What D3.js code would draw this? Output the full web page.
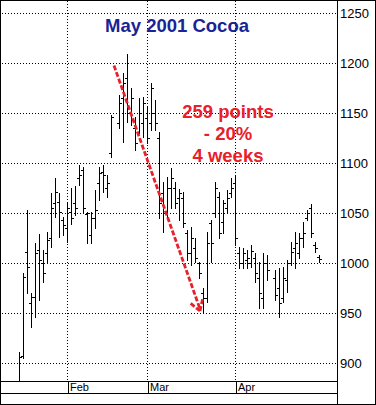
<!DOCTYPE html>
<html>
<head>
<meta charset="utf-8">
<script src="https://cdn.jsdelivr.net/npm/d3@7"></script>
<style>
  body { margin: 0; background: #fff; }
  svg { display: block; }
</style>
</head>
<body>
<div id="chart"></div>
<script>
// trading days shown (holidays Feb 19 and Apr 13 are left blank)
const dates = [
  "2001-01-16","2001-01-17","2001-01-18","2001-01-19","2001-01-22","2001-01-23","2001-01-24","2001-01-25","2001-01-26","2001-01-29","2001-01-30","2001-01-31",
  "2001-02-01","2001-02-02","2001-02-05","2001-02-06","2001-02-07","2001-02-08","2001-02-09","2001-02-12","2001-02-13","2001-02-14","2001-02-15","2001-02-16",
  "2001-02-20","2001-02-21","2001-02-22","2001-02-23","2001-02-26","2001-02-27","2001-02-28",
  "2001-03-01","2001-03-02","2001-03-05","2001-03-06","2001-03-07","2001-03-08","2001-03-09","2001-03-12","2001-03-13","2001-03-14","2001-03-15","2001-03-16",
  "2001-03-19","2001-03-20","2001-03-21","2001-03-22","2001-03-23","2001-03-26","2001-03-27","2001-03-28","2001-03-29","2001-03-30",
  "2001-04-02","2001-04-03","2001-04-04","2001-04-05","2001-04-06","2001-04-09","2001-04-10","2001-04-11","2001-04-12",
  "2001-04-16","2001-04-17","2001-04-18","2001-04-19","2001-04-20","2001-04-23","2001-04-24","2001-04-25","2001-04-26","2001-04-27","2001-04-30",
  "2001-05-01"
];

const high = [
  911, 990, 1053, 970, 1020, 1029, 1013, 1031, 1070, 1085, 1070, 1046,
  1060, 1075, 1077, 1098, 1096, 1051, 1051, 1073, 1096, 1098, 1088, 1148, 1168, 1190, 1209, 1175, 1146, 1165, 1166,
  1156, 1180, 1163, 1131, 1081, 1086, 1095, 1081, 1074, 1071, 1033, 1036, 1025, 1001, 975, 1031, 1043, 1081, 1071, 1063, 1073, 1085,
  1088, 1016, 1015, 1013, 1018, 1010, 1001, 1010, 1008, 993, 995, 996, 1003, 1021, 1031, 1030, 1041, 1053, 1059, 1021,
  1008
];
const low = [
  876, 905, 970, 936, 946, 963, 981, 1001, 1016, 1046, 1026, 1028,
  1021, 1039, 1048, 1078, 1051, 1020, 1020, 1035, 1063, 1071, 1066, 1106, 1135, 1121, 1141, 1138, 1113, 1130, 1126,
  1120, 1133, 1133, 1045, 1031, 1046, 1055, 1055, 1043, 1036, 1003, 998, 1001, 985, 950, 961, 1001, 1046, 1025, 1030, 1050, 1066,
  1018, 995, 995, 995, 996, 981, 955, 955, 983, 963, 946, 961, 971, 998, 995, 1005, 1016, 1043, 1026, 1011,
  1001
];
const open = [
  882, 907, 1011, 960, 966, 1013, 1000, 1010, 1025, 1060, 1061, 1043,
  1035, 1051, 1060, 1085, 1093, 1049, 1028, 1045, 1080, 1091, 1075, 1110, 1140, 1165, 1185, 1150, 1135, 1130, 1140,
  1145, 1140, 1150, 1125, 1070, 1050, 1075, 1075, 1065, 1065, 1030, 1010, 1015, 1000, 970, 965, 1040, 1050, 1066, 1041, 1055, 1070,
  1080, 1010, 1000, 1003, 1000, 1005, 985, 965, 1000, 985, 975, 965, 983, 1000, 1015, 1010, 1025, 1045, 1055, 1018,
  1006
];
const close = [
  906, 986, 996, 966, 1010, 1003, 990, 1023, 1055, 1071, 1051, 1038,
  1055, 1045, 1055, 1088, 1055, 1050, 1045, 1053, 1090, 1088, 1080, 1146, 1160, 1180, 1150, 1165, 1120, 1150, 1160,
  1125, 1175, 1140, 1060, 1050, 1075, 1085, 1060, 1070, 1040, 1010, 1025, 1005, 990, 965, 1020, 1020, 1075, 1030, 1060, 1065, 1075,
  1025, 1000, 1010, 1005, 1012, 990, 970, 1000, 993, 968, 960, 985, 1000, 1011, 1020, 1025, 1030, 1050, 1030, 1015,
  1004
];

const yTicks = [900, 950, 1000, 1050, 1100, 1150, 1200, 1250];
const months = [
  { date: "2001-02-01", label: "Feb" },
  { date: "2001-03-01", label: "Mar" },
  { date: "2001-04-02", label: "Apr" }
];

const title = "May 2001 Cocoa";
const notes = ["259 points", "- 20%", "4 weeks"];

const W = 376, H = 405;
const plotRight = 337, plotBottom = 381, rowBottom = 393;
const red = "#e8202a";

// weekday axis
const parse = d3.utcParse("%Y-%m-%d");
const axisDays = d3.utcDay.range(parse("2001-01-10"), parse("2001-05-08"))
  .filter(d => d.getUTCDay() !== 0 && d.getUTCDay() !== 6);
const dayIndex = new Map(axisDays.map((d, i) => [+d, i]));
const idx = s => dayIndex.get(+parse(s));

const x = d3.scaleLinear().domain([0, axisDays.length - 1]).range([3, 3 + 4 * (axisDays.length - 1)]);
const y = d3.scaleLinear().domain([882, 1263]).range([plotBottom, 0]);

const bars = dates.map((d, i) => ({ date: d, o: open[i], h: high[i], l: low[i], c: close[i] }));

const svg = d3.select("#chart").append("svg").attr("width", W).attr("height", H);
svg.append("rect").attr("width", W).attr("height", H).attr("fill", "#fff");

svg.append("clipPath").attr("id", "plot")
  .append("rect").attr("x", 0).attr("y", 0).attr("width", plotRight).attr("height", plotBottom);

// grid
const grid = svg.append("g").attr("stroke", "#000").attr("stroke-width", 1).attr("stroke-dasharray", "1,2");
grid.selectAll("line.h").data(yTicks).join("line")
  .attr("x1", 2).attr("x2", plotRight)
  .attr("y1", d => Math.round(y(d)) + 0.5).attr("y2", d => Math.round(y(d)) + 0.5);
grid.selectAll("line.v").data(months).join("line")
  .attr("x1", d => x(idx(d.date)) + 0.5).attr("x2", d => x(idx(d.date)) + 0.5)
  .attr("y1", 1).attr("y2", plotBottom);

// OHLC bars
const g = svg.append("g").attr("clip-path", "url(#plot)").attr("stroke", "#000").attr("stroke-width", 1);
const bx = d => x(idx(d.date)) + 0.5;
const py = v => Math.round(y(v)) + 0.5;
g.selectAll("line.hl").data(bars).join("line")
  .attr("x1", bx).attr("x2", bx)
  .attr("y1", d => Math.round(y(d.h))).attr("y2", d => Math.round(y(d.l)) + 1);
g.selectAll("line.o").data(bars).join("line")
  .attr("x1", d => bx(d) - 2.5).attr("x2", d => bx(d))
  .attr("y1", d => py(d.o)).attr("y2", d => py(d.o));
g.selectAll("line.c").data(bars).join("line")
  .attr("x1", d => bx(d)).attr("x2", d => bx(d) + 2.5)
  .attr("y1", d => py(d.c)).attr("y2", d => py(d.c));

// frame
const frame = svg.append("g").attr("stroke", "#000").attr("stroke-width", 1).attr("fill", "none");
frame.append("line").attr("x1", plotRight + 0.5).attr("x2", plotRight + 0.5).attr("y1", 0).attr("y2", H);
frame.append("line").attr("x1", 0).attr("x2", plotRight).attr("y1", plotBottom + 0.5).attr("y2", plotBottom + 0.5);
frame.append("line").attr("x1", 0).attr("x2", plotRight).attr("y1", rowBottom + 0.5).attr("y2", rowBottom + 0.5);
frame.append("rect").attr("x", 0.5).attr("y", 0.5).attr("width", W - 1).attr("height", H - 1);

// right axis labels
svg.append("g").selectAll("text").data(yTicks).join("text")
  .attr("x", plotRight + 3)
  .attr("y", d => y(d) + 4.5)
  .attr("font-family", "Liberation Sans, Arial, sans-serif")
  .attr("font-size", 13)
  .attr("fill", "#000")
  .text(d => d);

// month row
const mg = svg.append("g");
mg.selectAll("line").data(months).join("line")
  .attr("x1", d => x(idx(d.date)) + 1.5).attr("x2", d => x(idx(d.date)) + 1.5)
  .attr("y1", plotBottom + 1).attr("y2", rowBottom)
  .attr("stroke", "#000");
mg.selectAll("text").data(months).join("text")
  .attr("x", d => x(idx(d.date)) + 3)
  .attr("y", rowBottom - 2)
  .attr("font-family", "Liberation Sans, Arial, sans-serif")
  .attr("font-size", 11)
  .attr("fill", "#000")
  .text(d => d.label);

// title
svg.append("text")
  .attr("x", 177).attr("y", 32)
  .attr("text-anchor", "middle")
  .attr("font-family", "Liberation Sans, Arial, sans-serif")
  .attr("font-weight", "bold")
  .attr("font-size", 18.5)
  .attr("fill", "#1a2396")
  .text(title);

// annotation text
svg.append("g").selectAll("text").data(notes).join("text")
  .attr("x", x(57) - 3)
  .attr("y", (d, i) => y(1145) + i * 22)
  .attr("text-anchor", "middle")
  .attr("font-family", "Liberation Sans, Arial, sans-serif")
  .attr("font-weight", "bold")
  .attr("font-size", 18.5)
  .attr("fill", red)
  .text(d => d);

// dashed arrow from the high to the low
const a0 = [x(27.75), y(1197.5)], a1 = [x(49.25), y(952)];
svg.append("line")
  .attr("x1", a0[0]).attr("y1", a0[1]).attr("x2", a1[0]).attr("y2", a1[1] - 2)
  .attr("stroke", red).attr("stroke-width", 2.8).attr("stroke-dasharray", "5,2");
const ang = Math.atan2(a1[1] - a0[1], a1[0] - a0[0]);
[-0.55, 0.55].forEach(da => {
  const t = ang + Math.PI + da;
  svg.append("line")
    .attr("x1", a1[0]).attr("y1", a1[1])
    .attr("x2", a1[0] + 13 * Math.cos(t)).attr("y2", a1[1] + 13 * Math.sin(t))
    .attr("stroke", red).attr("stroke-width", 2.8).attr("stroke-dasharray", "5,2");
});
</script>
</body>
</html>
